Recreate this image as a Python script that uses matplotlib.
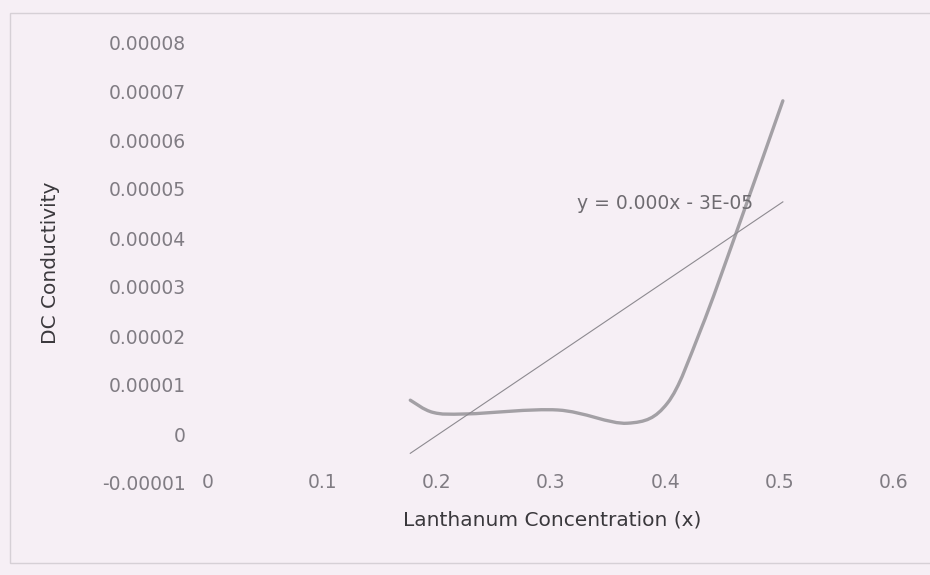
import numpy as np
import matplotlib
matplotlib.use("Agg")
import matplotlib.pyplot as plt
from matplotlib.path import Path
from matplotlib.patches import PathPatch, Rectangle

# values
conc = [0.177, 0.197, 0.227, 0.306, 0.367, 0.402, 0.431, 0.463, 0.503]
dc_cond = [0.69e-5, 0.44e-5, 0.41e-5, 0.49e-5, 0.22e-5, 0.63e-5, 2.12e-5,
           4.16e-5, 6.80e-5]

# linear trendline shown on the chart
trend_slope = 1.574e-4
trend_icpt = -3.18e-5
trend_label = "y = 0.000x - 3E-05"

x_ticks = [0, 0.1, 0.2, 0.3, 0.4, 0.5, 0.6]
x_tick_labels = ["0", "0.1", "0.2", "0.3", "0.4", "0.5", "0.6"]
y_ticks = [-1e-5, 0, 1e-5, 2e-5, 3e-5, 4e-5, 5e-5, 6e-5, 7e-5, 8e-5]
y_tick_labels = ["-0.00001", "0", "0.00001", "0.00002", "0.00003",
                 "0.00004", "0.00005", "0.00006", "0.00007", "0.00008"]

paper = "#f6eff5"


def smooth_path(xs, ys):
    """Excel-style smoothed line as a chain of cubic Bezier segments."""
    pts = np.column_stack([xs, ys])
    n = len(pts)
    verts = [pts[0]]
    codes = [Path.MOVETO]
    for i in range(n - 1):
        p0 = pts[max(i - 1, 0)]
        p1 = pts[i]
        p2 = pts[i + 1]
        p3 = pts[min(i + 2, n - 1)]
        c1 = p1 + (p2 - p0) / 6.0
        c2 = p2 - (p3 - p1) / 6.0
        verts += [c1, c2, p2]
        codes += [Path.CURVE4] * 3
    return Path(verts, codes)


fig = plt.figure(figsize=(9.3, 5.75), dpi=100, facecolor=paper)
ax = fig.add_axes([208 / 930, 92 / 575, 720 / 930, 441 / 575])
ax.set_facecolor(paper)

# faint chart-area border
fig.patches.append(Rectangle((10 / 930, 12 / 575), 1.2, 550 / 575,
                             transform=fig.transFigure, fill=False,
                             edgecolor="#d6d0d6", linewidth=1.0))

ax.add_patch(PathPatch(smooth_path(conc, dc_cond), facecolor="none",
                       edgecolor="#a3a0a5", linewidth=2.4,
                       capstyle="round"))

tx = np.array([conc[0], conc[-1]])
ax.plot(tx, trend_slope * tx + trend_icpt, color="#8d8a90", linewidth=0.8)

ax.text(0.400, 4.71e-5, trend_label, ha="center", va="center",
        fontsize=13.5, color="#6e6b70")

ax.set_xlim(0, 0.63)
ax.set_ylim(-1e-5, 8e-5)
ax.set_xticks(x_ticks)
ax.set_xticklabels(x_tick_labels)
ax.set_yticks(y_ticks)
ax.set_yticklabels(y_tick_labels)
ax.tick_params(axis="both", length=0, labelsize=13.5, labelcolor="#807c83")
ax.tick_params(axis="y", pad=16)
ax.tick_params(axis="x", pad=0)
for lbl in ax.get_xticklabels():
    lbl.set_verticalalignment("center")

for s in ax.spines.values():
    s.set_visible(False)

ax.set_ylabel("DC Conductivity", fontsize=14.5, color="#3a383c")
ax.yaxis.set_label_coords(-0.206, 0.5)
ax.set_xlabel("Lanthanum Concentration (x)", fontsize=14.5, color="#3a383c")
ax.xaxis.set_label_coords(0.478, -0.084)
ax.xaxis.label.set_verticalalignment("center")

fig.savefig("out.png", dpi=100, facecolor=paper)
